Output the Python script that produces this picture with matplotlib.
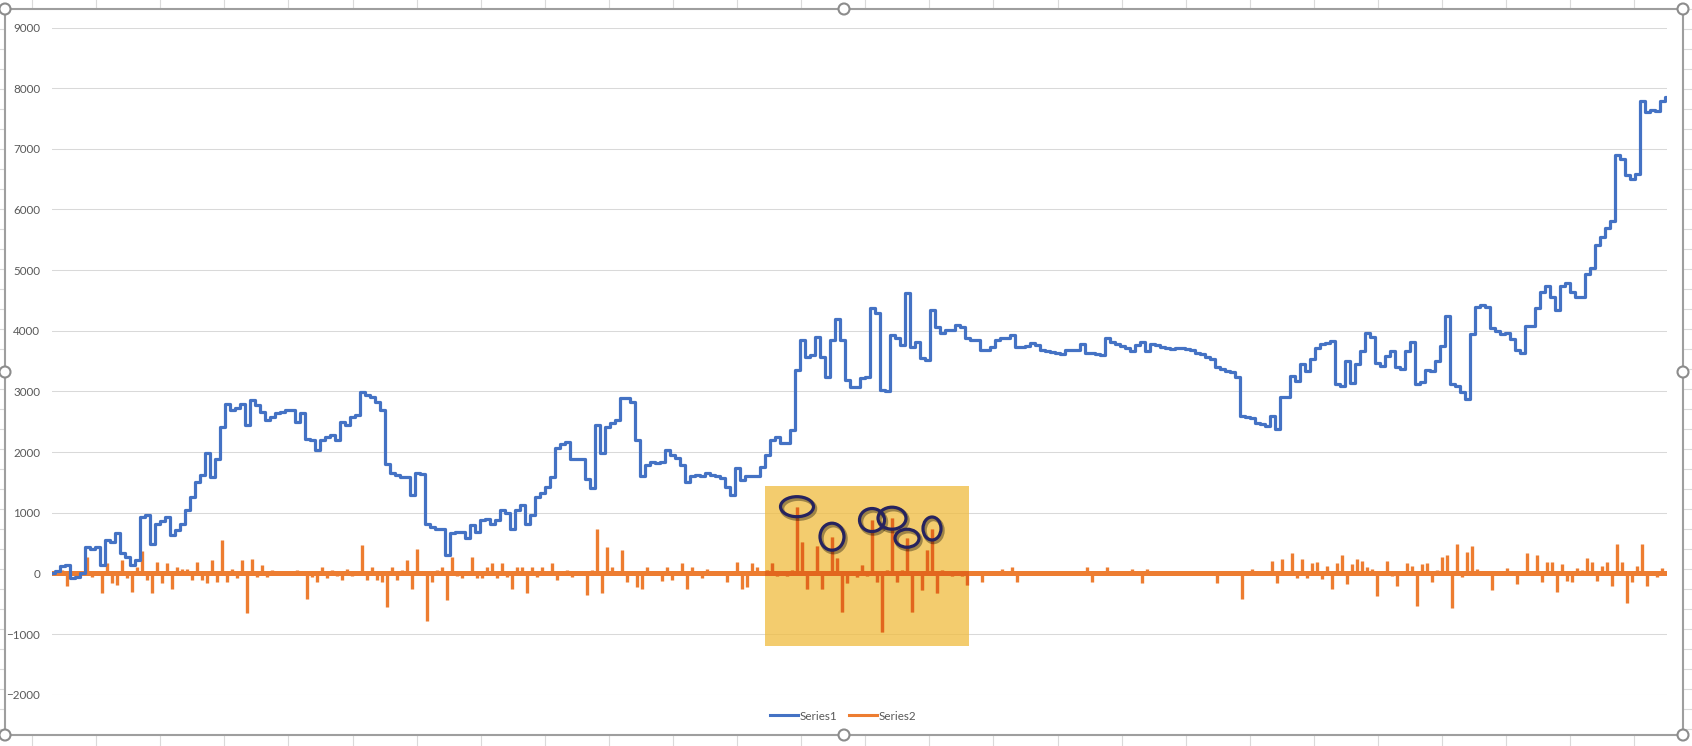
import numpy as np
import matplotlib.pyplot as plt
from matplotlib import transforms
from matplotlib.lines import Line2D
from matplotlib.patches import Rectangle, Ellipse, Circle

# values, one point every ~5 px of the plot width
series1 = [
    0, 40, 120, 140, -80, -65, 0, 430, 410, 440,
    140, 550, 520, 660, 330, 275, 140, 220, 930, 960,
    490, 820, 870, 930, 630, 715, 820, 1040, 1260, 1510,
    1620, 1980, 1590, 1890, 2420, 2800, 2690, 2720, 2800, 2450,
    2860, 2770, 2660, 2525, 2580, 2640, 2660, 2690, 2690, 2500,
    2640, 2220, 2200, 2030, 2200, 2250, 2280, 2200, 2500, 2440,
    2580, 2610, 2990, 2940, 2910, 2830, 2690, 1810, 1650, 1620,
    1590, 1590, 1300, 1650, 1640, 820, 770, 740, 740, 300,
    660, 690, 690, 580, 800, 690, 880, 900, 820, 880,
    1040, 990, 740, 1040, 1120, 820, 960, 1260, 1320, 1430,
    1590, 2060, 2140, 2170, 1890, 1880, 1890, 1560, 1400, 2450,
    1980, 2420, 2475, 2530, 2890, 2890, 2830, 2200, 1600, 1790,
    1840, 1815, 1840, 2035, 1950, 1900, 1790, 1510, 1600, 1620,
    1600, 1650, 1620, 1600, 1570, 1430, 1290, 1730, 1540, 1600,
    1600, 1600, 1760, 1950, 2200, 2255, 2145, 2145, 2365, 3355,
    3850, 3575, 3600, 3900, 3575, 3245, 3850, 4200, 3850, 3190,
    3080, 3080, 3215, 3245, 4370, 4290, 3025, 3000, 3930, 3880,
    3770, 4620, 3740, 3820, 3550, 3520, 4345, 4070, 3960, 4015,
    4015, 4100, 4070, 3880, 3850, 3850, 3685, 3685, 3740, 3850,
    3880, 3880, 3930, 3740, 3740, 3750, 3800, 3770, 3685, 3670,
    3650, 3630, 3610, 3690, 3690, 3690, 3785, 3640, 3640, 3620,
    3600, 3880, 3820, 3785, 3750, 3710, 3660, 3770, 3820, 3660,
    3785, 3770, 3735, 3710, 3705, 3710, 3720, 3700, 3685, 3640,
    3610, 3575, 3540, 3395, 3365, 3340, 3320, 3230, 2600, 2580,
    2570, 2485, 2470, 2430, 2600, 2375, 2900, 2915, 3255, 3175,
    3450, 3340, 3530, 3720, 3780, 3805, 3830, 3120, 3090, 3500,
    3145, 3450, 3670, 3970, 3890, 3475, 3420, 3585, 3670, 3410,
    3375, 3670, 3815, 3120, 3150, 3355, 3340, 3500, 3745, 4250,
    3115, 3085, 2995, 2875, 3955, 4400, 4430, 4400, 4040, 3995,
    3955, 3965, 3865, 3685, 3640, 4075, 4075, 4375, 4640, 4730,
    4550, 4345, 4730, 4790, 4640, 4550, 4550, 4940, 5030, 5420,
    5540, 5690, 5810, 6890, 6830, 6560, 6500, 6590, 7790, 7610,
    7640, 7620, 7790, 7850,
]

series2 = [
    0, 20, 60, -210, 30, -40, 20, 275, -60, 40,
    -330, 175, -165, -190, 220, -80, -300, 110, 370, -110,
    -330, 190, -165, 165, -250, 110, 80, 80, -110, 190,
    -110, -165, 220, -135, 550, -135, 80, -80, 220, -660,
    230, -55, 140, -55, 55, 30, -25, 40, -20, 55,
    40, -430, -55, -135, 110, -80, 60, -40, -110, 80,
    -50, 30, 465, -110, 110, -110, -140, -550, 110, -110,
    60, 220, -265, 410, 40, -785, -135, 60, 110, -440,
    265, -40, -80, 40, 265, -80, -80, 110, 165, -80,
    165, -60, -250, 110, 110, -330, 110, -55, 110, 40,
    175, -110, 30, 55, -55, 20, -30, -360, 55, 740,
    -330, 430, 110, -30, 385, -140, 30, -220, -250, 110,
    40, -30, -120, 110, -110, 40, 165, -250, 110, 30,
    -80, 80, 20, -30, 30, -140, 40, 190, -250, -220,
    175, 110, 20, 60, 175, -40, 30, -40, 60, 1100,
    520, -250, 30, 450, -250, 40, 605, 250, -630, -165,
    40, -60, 140, -40, 880, -140, -960, 60, 910, -140,
    60, 580, -630, 40, -275, 385, 740, -330, 60, 30,
    -40, 30, -40, -190, 20, 10, -140, 10, 20, -10,
    80, 10, 110, -140, 10, 0, 10, 20, -10, 0,
    10, 0, -10, 20, 0, 10, 10, 110, -140, 0,
    10, 110, 20, 10, 0, 30, 80, 10, -165, 80,
    20, 30, 10, 0, 10, 0, -10, 10, 0, 10,
    0, 10, -10, -155, 0, 20, 10, 40, -420, 40,
    65, 20, -20, 30, 200, -155, 240, 30, 330, -70,
    230, -70, 175, 190, -100, 120, -265, 175, 300, -180,
    150, 230, 200, 110, 80, -365, 30, 200, -40, -210,
    30, 175, 130, -530, 150, 175, -140, 60, 270, 300,
    -570, 480, -60, 360, 450, 80, 20, 40, -270, 20,
    10, 90, -30, -180, 20, 330, 20, 300, -150, 180,
    190, -300, 150, -120, -150, 90, 60, 250, 180, -120,
    120, 180, -210, 480, 180, -480, -150, 120, 480, -210,
    20, -60, 90, 20,
]

series_names = ['Series1', 'Series2']
y_ticks = list(range(-2000, 9001, 1000))

# circled spikes of Series2 and the shaded box around them (index / value range)
circled_idx = [149, 156, 164, 168, 171, 176]
circle_px = [(33, 20), (24, 27), (25, 23), (28, 22), (24, 18), (18, 23)]
box_idx = (142.6, 183.4)
box_val = (-1200, 1440)

BLUE = '#4472C4'
ORANGE = '#ED7D31'
TXT = '#595959'
plt.rcParams['font.family'] = ['Lato', 'DejaVu Sans']

W, H = 1692, 746
fig = plt.figure(figsize=(W / 100, H / 100), dpi=100)

# spreadsheet cells behind the chart
bg = fig.add_axes([0, 0, 1, 1], zorder=0)
bg.set_xlim(0, W)
bg.set_ylim(H, 0)
bg.axis('off')
for xg in np.arange(32, W, 64.1):
    bg.plot([xg, xg], [0, H], color='#DADADA', lw=0.8)
for yg in np.arange(9, H, 20):
    bg.plot([0, W], [yg, yg], color='#DADADA', lw=0.8)
bg.add_patch(Rectangle((5, 9), 1678, 726, facecolor='white', edgecolor='none', zorder=3))

# plot area
left, right, top, bottom = 52, 1667, 27.5, 694.7
ax = fig.add_axes([left / W, 1 - bottom / H, (right - left) / W, (bottom - top) / H], zorder=1)
ax.patch.set_alpha(0)
x = np.arange(len(series1))
ax.plot(x, series1, color=BLUE, lw=2.3, drawstyle='steps-mid', solid_joinstyle='round', zorder=3)


def draw_series2(color, z):
    # dense series: drawn as spikes off the zero level, as Excel shows it at this scale
    base = ax.axhline(0, color=color, lw=3.6, zorder=z)
    spikes = ax.vlines(x, 0, series2, color=color, lw=2.4, zorder=z)
    return [base, spikes]


draw_series2(ORANGE, 2)
ax.set_xlim(0, len(series1) - 1)
ax.set_ylim(-2000, 9000)
ax.set_yticks(y_ticks)
ax.set_xticks([])
ax.tick_params(axis='y', length=0, pad=8.6, labelsize=8.4, labelcolor=TXT)
ax.grid(axis='y', color='#D9D9D9', lw=0.75, zorder=0)
ax.set_axisbelow(True)
for s in ax.spines.values():
    s.set_visible(False)

# shaded box, lines inside it look darker (multiply-like)
box = Rectangle((box_idx[0], box_val[0]), box_idx[1] - box_idx[0], box_val[1] - box_val[0],
                facecolor='#F0BE45', alpha=0.78, edgecolor='none', zorder=4)
ax.add_patch(box)
for art in draw_series2('#E2661E', 5):
    art.set_clip_path(box)

px_x = (right - left) / (len(series1) - 1)
px_y = (bottom - top) / 11000
shadow = transforms.offset_copy(ax.transData, fig, x=1.5, y=-2, units='dots')
for i, (w, h) in zip(circled_idx, circle_px):
    c = (i, series2[i])
    ax.add_patch(Ellipse(c, w / px_x, h / px_y, fill=False, edgecolor='black', alpha=0.35,
                         lw=3.2, transform=shadow, zorder=6))
    ax.add_patch(Ellipse(c, w / px_x, h / px_y, fill=False, edgecolor='#26235F', lw=2.3, zorder=7))

handles = [Line2D([], [], color=BLUE, lw=2.2), Line2D([], [], color=ORANGE, lw=2.2)]
leg = fig.legend(handles, series_names, loc='center', bbox_to_anchor=(843 / W, 1 - 716 / H),
                 ncol=2, frameon=False, fontsize=8.4, handlelength=2.4, handletextpad=0.15,
                 columnspacing=1.0)
for t in leg.get_texts():
    t.set_color(TXT)

# selection frame with handles
fr = fig.add_axes([0, 0, 1, 1], zorder=3)
fr.set_xlim(0, W)
fr.set_ylim(H, 0)
fr.axis('off')
fr.patch.set_alpha(0)
fr.add_patch(Rectangle((5, 9), 1678, 726, fill=False, edgecolor='#9E9E9E', lw=1.5))
for hx in (5, 844, 1683):
    for hy in (9, 372, 735):
        if hx == 844 and hy == 372:
            continue
        fr.add_patch(Circle((hx, hy), 5.5, facecolor='white', edgecolor='#8C8C8C', lw=1.5))

fig.savefig('out.png', dpi=100, facecolor='white')
